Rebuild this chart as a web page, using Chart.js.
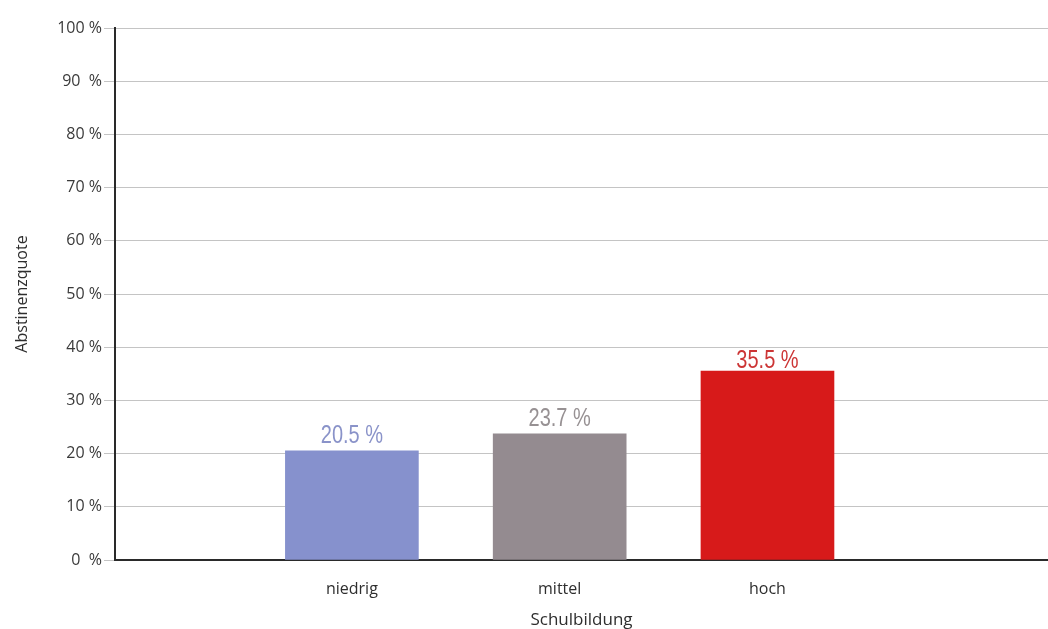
<!DOCTYPE html>
<html>
<head>
<meta charset="utf-8">
<script src="https://cdn.jsdelivr.net/npm/chart.js@4"></script>
<style>
  html, body { margin: 0; padding: 0; background: #ffffff; }
  #wrap { width: 1048px; height: 629px; position: relative; }
</style>
</head>
<body>
<div id="wrap"><canvas id="c"></canvas></div>
<script>
const categories = ['niedrig', 'mittel', 'hoch'];
const values = [20.5, 23.7, 35.5];
const barColors = ['#8691cd', '#948b90', '#d71a1a'];
const labelColors = ['#8a93c9', '#979193', '#cc3535'];
const yTickLabels = ['0  %', '10 %', '20 %', '30 %', '40 %', '50 %', '60 %', '70 %', '80 %', '90  %', '100 %'];
const yTitle = 'Abstinenzquote';
const xTitle = 'Schulbildung';

const labelGap = [8, 8, 3];

const valueLabels = {
  id: 'valueLabels',
  afterDatasetsDraw(chart) {
    const ctx = chart.ctx;
    const meta = chart.getDatasetMeta(0);
    meta.data.forEach((el, i) => {
      ctx.save();
      ctx.font = '25px "Liberation Sans", Arial, sans-serif';
      ctx.textAlign = 'center';
      ctx.textBaseline = 'alphabetic';
      ctx.fillStyle = labelColors[i];
      ctx.translate(el.x, el.y - labelGap[i]);
      ctx.scale(0.8, 1);
      ctx.fillText(values[i].toFixed(1) + ' %', 0, 0);
      ctx.restore();
    });
  }
};

new Chart(document.getElementById('c'), {
  type: 'bar',
  data: {
    datasets: [{
      data: values.map((v, i) => ({ x: i + 1, y: v })),
      backgroundColor: barColors,
      borderWidth: 0,
      barThickness: 133
    }]
  },
  options: {
    responsive: true,
    maintainAspectRatio: false,
    animation: false,
    layout: { padding: { top: 28, right: 0, left: 0, bottom: 0 } },
    plugins: { legend: { display: false }, tooltip: { enabled: false } },
    scales: {
      x: {
        type: 'linear',
        offset: false,
        min: -0.14,
        max: 4.35,
        afterFit(s) { s.height = 69; s.paddingLeft = 0; s.paddingRight = 0; },
        grid: { display: false, offset: false },
        border: { display: true, color: '#2a2a2a', width: 2 },
        ticks: {
          stepSize: 1,
          autoSkip: false,
          maxRotation: 0,
          padding: 12,
          color: '#2e2e2e',
          font: { family: '"Open Sans", sans-serif', size: 16 },
          callback(v) {
            const idx = Math.round(v) - 1;
            return (Math.abs(v - Math.round(v)) < 1e-6 && categories[idx]) ? categories[idx] : '';
          }
        },
        title: {
          display: true,
          text: xTitle,
          color: '#2e2e2e',
          font: { family: '"Open Sans", sans-serif', size: 17, lineHeight: 1 },
          padding: { top: 0, bottom: 0 }
        }
      },
      y: {
        min: 0,
        max: 100,
        afterFit(s) { s.width = 115; },
        grid: { color: '#c4c4c4', lineWidth: 1, tickLength: 11, drawTicks: true },
        border: { display: true, color: '#2a2a2a', width: 2 },
        ticks: {
          stepSize: 10,
          padding: 2,
          color: '#3a3a3a',
          font: { family: '"Open Sans", sans-serif', size: 16 },
          callback(v) { return yTickLabels[Math.round(v / 10)]; }
        },
        title: {
          display: true,
          text: yTitle,
          color: '#2e2e2e',
          font: { family: '"Open Sans", sans-serif', size: 16 },
          padding: { top: 13, bottom: 0 }
        }
      }
    }
  },
  plugins: [valueLabels]
});
</script>
</body>
</html>
